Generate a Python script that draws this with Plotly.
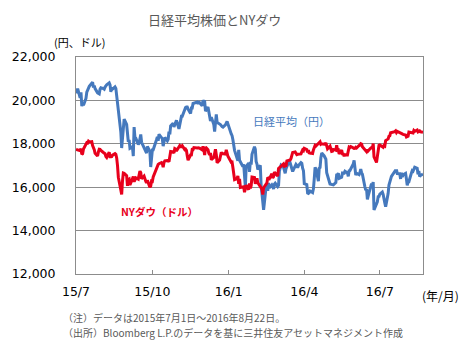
import plotly.graph_objects as go

# Nikkei 225 daily closes (yen)
nikkei_dates = [
    "2015-07-01","2015-07-02","2015-07-03","2015-07-06","2015-07-07","2015-07-08","2015-07-09","2015-07-10",
    "2015-07-13","2015-07-14","2015-07-15","2015-07-16","2015-07-17","2015-07-21","2015-07-22","2015-07-23",
    "2015-07-24","2015-07-27","2015-07-28","2015-07-29","2015-07-30","2015-07-31","2015-08-03","2015-08-04",
    "2015-08-05","2015-08-06","2015-08-07","2015-08-10","2015-08-11","2015-08-12","2015-08-13","2015-08-14",
    "2015-08-17","2015-08-18","2015-08-19","2015-08-20","2015-08-21","2015-08-24","2015-08-25","2015-08-26",
    "2015-08-27","2015-08-28","2015-08-31","2015-09-01","2015-09-02","2015-09-03","2015-09-04","2015-09-07",
    "2015-09-08","2015-09-09","2015-09-10","2015-09-11","2015-09-14","2015-09-15","2015-09-16","2015-09-17",
    "2015-09-18","2015-09-24","2015-09-25","2015-09-28","2015-09-29","2015-09-30","2015-10-01","2015-10-02",
    "2015-10-05","2015-10-06","2015-10-07","2015-10-08","2015-10-09","2015-10-13","2015-10-14","2015-10-15",
    "2015-10-16","2015-10-19","2015-10-20","2015-10-21","2015-10-22","2015-10-23","2015-10-26","2015-10-27",
    "2015-10-28","2015-10-29","2015-10-30","2015-11-02","2015-11-04","2015-11-05","2015-11-06","2015-11-09",
    "2015-11-10","2015-11-11","2015-11-12","2015-11-13","2015-11-16","2015-11-17","2015-11-18","2015-11-19",
    "2015-11-20","2015-11-24","2015-11-25","2015-11-26","2015-11-27","2015-11-30","2015-12-01","2015-12-02",
    "2015-12-03","2015-12-04","2015-12-07","2015-12-08","2015-12-09","2015-12-10","2015-12-11","2015-12-14",
    "2015-12-15","2015-12-16","2015-12-17","2015-12-18","2015-12-21","2015-12-22","2015-12-24","2015-12-25",
    "2015-12-28","2015-12-29","2015-12-30","2016-01-04","2016-01-05","2016-01-06","2016-01-07","2016-01-08",
    "2016-01-12","2016-01-13","2016-01-14","2016-01-15","2016-01-18","2016-01-19","2016-01-20","2016-01-21",
    "2016-01-22","2016-01-25","2016-01-26","2016-01-27","2016-01-28","2016-01-29","2016-02-01","2016-02-02",
    "2016-02-03","2016-02-04","2016-02-05","2016-02-08","2016-02-09","2016-02-10","2016-02-12","2016-02-15",
    "2016-02-16","2016-02-17","2016-02-18","2016-02-19","2016-02-22","2016-02-23","2016-02-24","2016-02-25",
    "2016-02-26","2016-02-29","2016-03-01","2016-03-02","2016-03-03","2016-03-04","2016-03-07","2016-03-08",
    "2016-03-09","2016-03-10","2016-03-11","2016-03-14","2016-03-15","2016-03-16","2016-03-17","2016-03-18",
    "2016-03-22","2016-03-23","2016-03-24","2016-03-25","2016-03-28","2016-03-29","2016-03-30","2016-03-31",
    "2016-04-01","2016-04-04","2016-04-05","2016-04-06","2016-04-07","2016-04-08","2016-04-11","2016-04-12",
    "2016-04-13","2016-04-14","2016-04-15","2016-04-18","2016-04-19","2016-04-20","2016-04-21","2016-04-22",
    "2016-04-25","2016-04-26","2016-04-27","2016-04-28","2016-05-02","2016-05-06","2016-05-09","2016-05-10",
    "2016-05-11","2016-05-12","2016-05-13","2016-05-16","2016-05-17","2016-05-18","2016-05-19","2016-05-20",
    "2016-05-23","2016-05-24","2016-05-25","2016-05-26","2016-05-27","2016-05-30","2016-05-31","2016-06-01",
    "2016-06-02","2016-06-03","2016-06-06","2016-06-07","2016-06-08","2016-06-09","2016-06-10","2016-06-13",
    "2016-06-14","2016-06-15","2016-06-16","2016-06-17","2016-06-20","2016-06-21","2016-06-22","2016-06-23",
    "2016-06-24","2016-06-27","2016-06-28","2016-06-29","2016-06-30","2016-07-01","2016-07-04","2016-07-05",
    "2016-07-06","2016-07-07","2016-07-08","2016-07-11","2016-07-12","2016-07-13","2016-07-14","2016-07-15",
    "2016-07-19","2016-07-20","2016-07-21","2016-07-22","2016-07-25","2016-07-26","2016-07-27","2016-07-28",
    "2016-07-29","2016-08-01","2016-08-02","2016-08-03","2016-08-04","2016-08-05","2016-08-08","2016-08-09",
    "2016-08-10","2016-08-12","2016-08-15","2016-08-16","2016-08-17","2016-08-18","2016-08-19","2016-08-22",
]
nikkei_values = [
    20329,20522,20539,20112,20376,19737,19855,19780,
    20089,20385,20463,20600,20650,20841,20593,20683,
    20544,20350,20328,20302,20522,20585,20548,20520,
    20614,20664,20724,20808,20720,20392,20596,20519,
    20620,20554,20222,20033,19436,18540,17806,18376,
    18574,19136,18890,18165,18095,18182,17792,17860,
    17427,18770,18299,18264,17965,18026,18171,18432,
    18070,17571,17880,17645,16930,17388,17722,17725,
    18005,18186,18322,18141,18438,18234,17891,18097,
    18291,18131,18207,18554,18435,18825,18947,18777,
    18903,18935,19083,18684,19116,19265,19265,19643,
    19671,19697,19697,19597,19394,19649,19649,19859,
    19879,19925,19847,19944,19883,19747,20012,19938,
    19940,19504,19698,19492,19301,19047,19230,18883,
    18565,19050,19353,18986,18916,18886,18789,18769,
    18873,18982,19034,18451,18375,18191,17767,17698,
    17219,17716,17241,17147,16956,17049,16416,16017,
    16958,17111,16709,17163,17041,17518,17865,17750,
    17191,17068,16820,17004,16085,15713,14952,16022,
    16054,15837,16196,15967,16111,16052,15916,16140,
    16188,16027,16085,16747,16960,17015,16911,16784,
    16642,16852,16939,17233,17117,16975,16937,16725,
    17049,17001,16892,17002,17135,17104,16879,16759,
    16164,16123,15733,15715,15750,15822,15752,15928,
    16381,16912,16849,16276,16875,16906,17364,17573,
    17440,17353,17290,16666,16147,16106,16217,16565,
    16579,16646,16412,16466,16652,16645,16646,16736,
    16654,16499,16757,16772,16834,17068,17234,16955,
    16562,16642,16580,16675,16830,16668,16601,16019,
    15859,15919,15434,15599,15965,16169,16065,16238,
    14952,15309,15323,15566,15575,15682,15775,15669,
    15378,15276,15106,15708,16095,16231,16385,16497,
    16723,16681,16810,16627,16620,16383,16664,16476,
    16569,16635,16391,16083,16254,16254,16650,16764,
    16735,16919,16869,16596,16745,16486,16545,16599,
]

# Dow Jones Industrial Average daily closes (dollars)
dow_dates = [
    "2015-07-01","2015-07-02","2015-07-06","2015-07-07","2015-07-08","2015-07-09","2015-07-10","2015-07-13",
    "2015-07-14","2015-07-15","2015-07-16","2015-07-17","2015-07-20","2015-07-21","2015-07-22","2015-07-23",
    "2015-07-24","2015-07-27","2015-07-28","2015-07-29","2015-07-30","2015-07-31","2015-08-03","2015-08-04",
    "2015-08-05","2015-08-06","2015-08-07","2015-08-10","2015-08-11","2015-08-12","2015-08-13","2015-08-14",
    "2015-08-17","2015-08-18","2015-08-19","2015-08-20","2015-08-21","2015-08-24","2015-08-25","2015-08-26",
    "2015-08-27","2015-08-28","2015-08-31","2015-09-01","2015-09-02","2015-09-03","2015-09-04","2015-09-08",
    "2015-09-09","2015-09-10","2015-09-11","2015-09-14","2015-09-15","2015-09-16","2015-09-17","2015-09-18",
    "2015-09-21","2015-09-22","2015-09-23","2015-09-24","2015-09-25","2015-09-28","2015-09-29","2015-09-30",
    "2015-10-01","2015-10-02","2015-10-05","2015-10-06","2015-10-07","2015-10-08","2015-10-09","2015-10-12",
    "2015-10-13","2015-10-14","2015-10-15","2015-10-16","2015-10-19","2015-10-20","2015-10-21","2015-10-22",
    "2015-10-23","2015-10-26","2015-10-27","2015-10-28","2015-10-29","2015-10-30","2015-11-02","2015-11-03",
    "2015-11-04","2015-11-05","2015-11-06","2015-11-09","2015-11-10","2015-11-11","2015-11-12","2015-11-13",
    "2015-11-16","2015-11-17","2015-11-18","2015-11-19","2015-11-20","2015-11-23","2015-11-24","2015-11-25",
    "2015-11-27","2015-11-30","2015-12-01","2015-12-02","2015-12-03","2015-12-04","2015-12-07","2015-12-08",
    "2015-12-09","2015-12-10","2015-12-11","2015-12-14","2015-12-15","2015-12-16","2015-12-17","2015-12-18",
    "2015-12-21","2015-12-22","2015-12-23","2015-12-24","2015-12-28","2015-12-29","2015-12-30","2015-12-31",
    "2016-01-04","2016-01-05","2016-01-06","2016-01-07","2016-01-08","2016-01-11","2016-01-12","2016-01-13",
    "2016-01-14","2016-01-15","2016-01-19","2016-01-20","2016-01-21","2016-01-22","2016-01-25","2016-01-26",
    "2016-01-27","2016-01-28","2016-01-29","2016-02-01","2016-02-02","2016-02-03","2016-02-04","2016-02-05",
    "2016-02-08","2016-02-09","2016-02-10","2016-02-11","2016-02-12","2016-02-16","2016-02-17","2016-02-18",
    "2016-02-19","2016-02-22","2016-02-23","2016-02-24","2016-02-25","2016-02-26","2016-02-29","2016-03-01",
    "2016-03-02","2016-03-03","2016-03-04","2016-03-07","2016-03-08","2016-03-09","2016-03-10","2016-03-11",
    "2016-03-14","2016-03-15","2016-03-16","2016-03-17","2016-03-18","2016-03-21","2016-03-22","2016-03-23",
    "2016-03-24","2016-03-28","2016-03-29","2016-03-30","2016-03-31","2016-04-01","2016-04-04","2016-04-05",
    "2016-04-06","2016-04-07","2016-04-08","2016-04-11","2016-04-12","2016-04-13","2016-04-14","2016-04-15",
    "2016-04-18","2016-04-19","2016-04-20","2016-04-21","2016-04-22","2016-04-25","2016-04-26","2016-04-27",
    "2016-04-28","2016-04-29","2016-05-02","2016-05-03","2016-05-04","2016-05-05","2016-05-06","2016-05-09",
    "2016-05-10","2016-05-11","2016-05-12","2016-05-13","2016-05-16","2016-05-17","2016-05-18","2016-05-19",
    "2016-05-20","2016-05-23","2016-05-24","2016-05-25","2016-05-26","2016-05-27","2016-05-31","2016-06-01",
    "2016-06-02","2016-06-03","2016-06-06","2016-06-07","2016-06-08","2016-06-09","2016-06-10","2016-06-13",
    "2016-06-14","2016-06-15","2016-06-16","2016-06-17","2016-06-20","2016-06-21","2016-06-22","2016-06-23",
    "2016-06-24","2016-06-27","2016-06-28","2016-06-29","2016-06-30","2016-07-01","2016-07-05","2016-07-06",
    "2016-07-07","2016-07-08","2016-07-11","2016-07-12","2016-07-13","2016-07-14","2016-07-15","2016-07-18",
    "2016-07-19","2016-07-20","2016-07-21","2016-07-22","2016-07-25","2016-07-26","2016-07-27","2016-07-28",
    "2016-07-29","2016-08-01","2016-08-02","2016-08-03","2016-08-04","2016-08-05","2016-08-08","2016-08-09",
    "2016-08-10","2016-08-11","2016-08-12","2016-08-15","2016-08-16","2016-08-17","2016-08-18","2016-08-19",
    "2016-08-22",
]
dow_values = [
    17757,17730,17683,17776,17515,17548,17760,17977,
    18053,18035,18120,18086,18100,17919,17851,17731,
    17568,17440,17630,17751,17745,17690,17598,17550,
    17540,17419,17373,17615,17402,17403,17409,17477,
    17546,17512,17349,16991,16460,15871,15666,16285,
    16655,16643,16528,16059,16351,16375,16102,16493,
    16254,16330,16433,16370,16599,16740,16675,16385,
    16511,16330,16280,16201,16314,16001,16049,16285,
    16272,16472,16777,16790,16912,17050,17084,17131,
    17081,16924,17142,17216,17230,17218,17169,17490,
    17647,17623,17581,17780,17756,17664,17829,17918,
    17868,17863,17910,17731,17758,17703,17449,17245,
    17484,17489,17737,17732,17824,17792,17812,17814,
    17798,17720,17888,17730,17478,17848,17730,17568,
    17493,17575,17265,17368,17525,17750,17495,17128,
    17251,17418,17603,17553,17529,17721,17604,17425,
    17149,17159,16907,16515,16347,16399,16516,16151,
    16380,15988,16016,15767,15882,16094,15886,16168,
    15944,16070,16466,16449,16154,16337,16417,16205,
    16027,16014,15914,15660,15974,16196,16454,16414,
    16392,16620,16431,16485,16698,16640,16517,16865,
    16900,16944,16944,17073,16965,17000,16995,17213,
    17229,17251,17325,17481,17602,17623,17582,17502,
    17515,17535,17633,17716,17685,17792,17737,17603,
    17716,17541,17576,17556,17721,17908,17926,17897,
    18004,18053,18096,17982,18003,17977,17990,18041,
    17830,17773,17891,17750,17651,17660,17740,17705,
    17928,17711,17720,17535,17711,17530,17526,17435,
    17500,17492,17706,17851,17828,17873,17787,17789,
    17838,17807,17920,17938,18005,17985,17865,17733,
    17675,17640,17733,17675,17805,17830,17780,18011,
    17400,17140,17410,17695,17930,17949,17841,17919,
    17896,18147,18227,18347,18372,18506,18517,18534,
    18559,18595,18517,18571,18493,18474,18473,18456,
    18432,18404,18314,18355,18352,18543,18529,18533,
    18496,18613,18576,18636,18552,18573,18597,18553,
    18529,
]

tick_dates = ["2015-07-01", "2015-10-01", "2016-01-01", "2016-04-01", "2016-07-01"]
tick_labels = ["15/7", "15/10", "16/1", "16/4", "16/7"]
y_ticks = [12000, 14000, 16000, 18000, 20000, 22000]

BLUE = "#4579BD"
RED = "#E8001C"
GRID = "#8C8C8C"
GRAY_TEXT = "#595959"
NUM_FONT = "DejaVu Sans"
JP_FONT = "Noto Sans CJK JP"

W, H = 474, 345
L, R, T, B = 76, 423, 57, 274


def px(x):
    return (x - L) / (R - L)


def py(y):
    return (B - y) / (B - T)


fig = go.Figure()
fig.add_trace(go.Scatter(x=nikkei_dates, y=nikkei_values, mode="lines",
                         line=dict(color=BLUE, width=3), name="日経平均（円）"))
fig.add_trace(go.Scatter(x=dow_dates, y=dow_values, mode="lines",
                         line=dict(color=RED, width=3), name="NYダウ（ドル）"))

fig.update_layout(
    width=W, height=H,
    margin=dict(l=L, r=W - R, t=T, b=H - B),
    paper_bgcolor="white", plot_bgcolor="white",
    showlegend=False,
    xaxis=dict(
        type="date", range=["2015-07-01", "2016-08-22"],
        tickvals=tick_dates, ticktext=tick_labels,
        ticks="inside", ticklen=4, tickcolor=GRID, tickwidth=1,
        showgrid=False, showline=True, linecolor=GRID, linewidth=1, mirror=True,
        tickfont=dict(family=NUM_FONT, size=12.5, color="#000000"),
        ticklabelstandoff=6, zeroline=False,
    ),
    yaxis=dict(
        range=[12000, 22000], tickvals=y_ticks, tickformat=",d",
        showgrid=True, gridcolor=GRID, gridwidth=1,
        showline=True, linecolor=GRID, linewidth=1, mirror=True,
        ticks="", tickfont=dict(family=NUM_FONT, size=12.5, color="#000000"),
        ticklabelstandoff=17, zeroline=False,
    ),
)

annotations = [
    dict(text="日経平均株価とNYダウ", x=px(214), y=py(19),
         font=dict(family=JP_FONT, size=13, color=GRAY_TEXT)),
    dict(text="(円、ドル)", x=px(79), y=py(42),
         font=dict(family=JP_FONT, size=11, color="#000000")),
    dict(text="(年/月)", x=px(440), y=py(295),
         font=dict(family=JP_FONT, size=12, color="#000000")),
    dict(text="（注）データは2015年7月1日～2016年8月22日。", x=px(61), y=py(317),
         xanchor="left", font=dict(family=JP_FONT, size=10, color=GRAY_TEXT)),
    dict(text="（出所）Bloomberg L.P.のデータを基に三井住友アセットマネジメント作成",
         x=px(61), y=py(332), xanchor="left",
         font=dict(family=JP_FONT, size=10, color=GRAY_TEXT)),
]
for a in annotations:
    a.setdefault("xanchor", "center")
    fig.add_annotation(xref="paper", yref="paper", yanchor="middle",
                       showarrow=False, **a)

# series labels placed in data coordinates
fig.add_annotation(x="2016-03-17", y=19050, text="日経平均（円）", showarrow=False,
                   font=dict(family=JP_FONT, size=11, color=BLUE))
fig.add_annotation(x="2015-10-10", y=14860, text="<b>NYダウ（ドル）</b>", showarrow=False,
                   font=dict(family=JP_FONT, size=10.5, color=RED))

fig.write_html("out.html")
